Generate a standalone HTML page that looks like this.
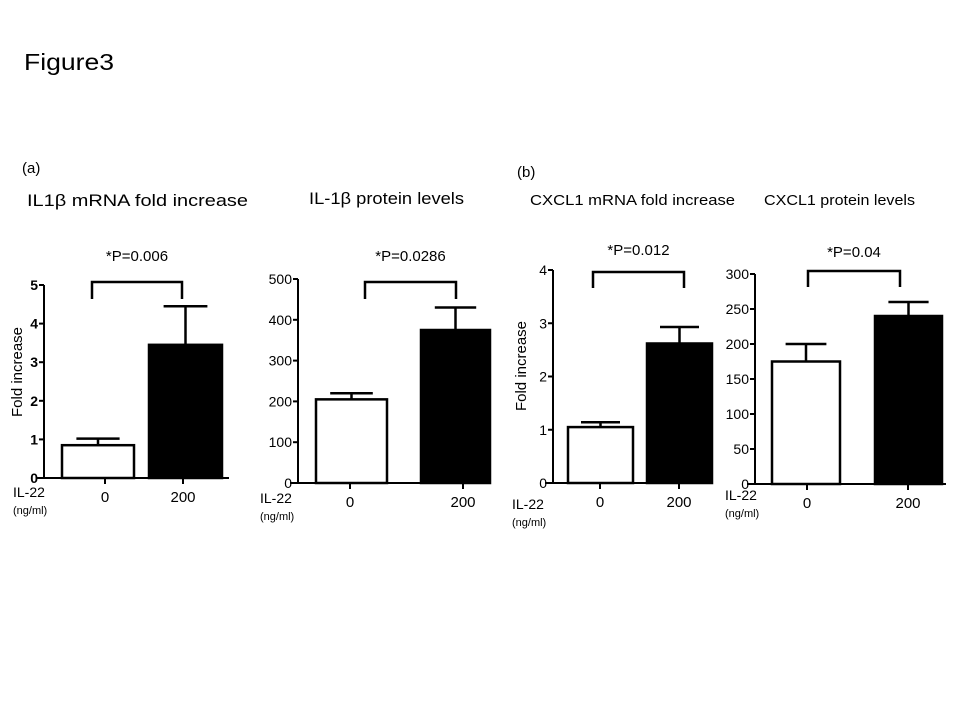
<!DOCTYPE html>
<html><head><meta charset="utf-8"><style>
html,body{margin:0;padding:0;background:#fff;}
svg{display:block;font-family:"Liberation Sans",sans-serif;}
</style></head><body>
<svg id="fig" width="960" height="720" viewBox="0 0 960 720">
<text x="24" y="70" font-size="23" textLength="90" lengthAdjust="spacingAndGlyphs">Figure3</text>
<text x="22" y="173" font-size="15">(a)</text>
<text x="517" y="177" font-size="15">(b)</text>
<text x="27" y="206" font-size="17" textLength="221" lengthAdjust="spacingAndGlyphs">IL1β mRNA fold increase</text>
<text x="309" y="204" font-size="17" textLength="155" lengthAdjust="spacingAndGlyphs">IL-1β protein levels</text>
<text x="530" y="205" font-size="15" textLength="205" lengthAdjust="spacingAndGlyphs">CXCL1 mRNA  fold increase</text>
<text x="764" y="205" font-size="15" textLength="151" lengthAdjust="spacingAndGlyphs">CXCL1 protein levels</text>
</svg>
<script>
const categories = ["0", "200"];
const il1bMrnaValues = [0.85, 3.45];
const il1bMrnaErrors = [0.17, 1.0];
const il1bMrnaTicks = [0, 1, 2, 3, 4, 5];
const il1bProteinValues = [205, 375];
const il1bProteinErrors = [15, 55];
const il1bProteinTicks = [0, 100, 200, 300, 400, 500];
const cxcl1MrnaValues = [1.05, 2.62];
const cxcl1MrnaErrors = [0.09, 0.31];
const cxcl1MrnaTicks = [0, 1, 2, 3, 4];
const cxcl1ProteinValues = [175, 240];
const cxcl1ProteinErrors = [25, 20];
const cxcl1ProteinTicks = [0, 50, 100, 150, 200, 250, 300];
const pLabels = ["*P=0.006", "*P=0.0286", "*P=0.012", "*P=0.04"];

const NS = "http://www.w3.org/2000/svg";
const svg = document.getElementById("fig");
function mk(tag, attrs, parent, text) {
  const e = document.createElementNS(NS, tag);
  for (const k in attrs) e.setAttribute(k, attrs[k]);
  if (text !== undefined) e.textContent = text;
  (parent || svg).appendChild(e);
  return e;
}
const panels = [
  {id:"il1b-mrna", vals:il1bMrnaValues, errs:il1bMrnaErrors, ticks:il1bMrnaTicks, p:pLabels[0],
   ax:44, y0:478, yTop:285, xEnd:229, bars:[[62,134],[149,222]], tickX:[105,183], bold:true,
   br:[92,182,282,299], pY:261, ylab:[17,372], il:[13,497]},
  {id:"il1b-protein", vals:il1bProteinValues, errs:il1bProteinErrors, ticks:il1bProteinTicks, p:pLabels[1],
   ax:298, y0:483, yTop:279, xEnd:490, bars:[[316,387],[421,490]], tickX:[350,463], bold:false,
   br:[365,456,282,299], pY:261, ylab:null, il:[260,503]},
  {id:"cxcl1-mrna", vals:cxcl1MrnaValues, errs:cxcl1MrnaErrors, ticks:cxcl1MrnaTicks, p:pLabels[2],
   ax:553, y0:483, yTop:270, xEnd:712, bars:[[568,633],[647,712]], tickX:[600,679], bold:false,
   br:[593,684,272,288], pY:255, ylab:[521,366], il:[512,509]},
  {id:"cxcl1-protein", vals:cxcl1ProteinValues, errs:cxcl1ProteinErrors, ticks:cxcl1ProteinTicks, p:pLabels[3],
   ax:755, y0:484, yTop:274, xEnd:946, bars:[[772,840],[875,942]], tickX:[807,908], bold:false,
   br:[808,900,271,287], pY:257, ylab:null, il:[725,500]}
];
panels.forEach(P => {
  const g = mk("g", {});
  
  
  const maxT = P.ticks[P.ticks.length - 1];
  const y = v => P.y0 - (v / maxT) * (P.y0 - P.yTop);
  P.vals.forEach((v, i) => {
    const [x1, x2] = P.bars[i];
    const ey = y(v + P.errs[i]);
    const cx = (x1 + x2) / 2;
    const w = x2 - x1;
    const err = mk("path", {d:`M${cx},${y(v)}V${ey}M${cx - w*0.3},${ey}H${cx + w*0.3}`, stroke:"#000", "stroke-width":2.5, fill:"none"}, g);
    
    
    const r = mk("rect", {x:x1, y:y(v), width:w, height:P.y0 - y(v), fill: i ? "#000" : "#fff", stroke:"#000", "stroke-width":2.5}, g);
    
    
  });
  const yAxis = mk("line", {x1:P.ax, y1:P.y0, x2:P.ax, y2:P.yTop, stroke:"#000", "stroke-width":2}, g);
  
  
  const xAxis = mk("line", {x1:P.ax - 8, y1:P.y0, x2:P.xEnd, y2:P.y0, stroke:"#000", "stroke-width":2}, g);
  
  
  P.ticks.forEach(t => {
    mk("line", {x1:P.ax - 5, y1:y(t), x2:P.ax, y2:y(t), stroke:"#000", "stroke-width":2}, g);
    const tl = mk("text", {x:P.ax - 6, y:y(t) + 5, "font-size":14, "text-anchor":"end", "font-weight":P.bold ? "bold" : "normal"}, g, String(t));
    
    
  });
  categories.forEach((c, i) => {
    mk("line", {x1:P.tickX[i], y1:P.y0, x2:P.tickX[i], y2:P.y0 + 6, stroke:"#000", "stroke-width":2}, g);
    const cl = mk("text", {x:P.tickX[i], y:P.y0 + 24, "font-size":15, "text-anchor":"middle"}, g, c);
    
    
  });
  const il = mk("text", {x:P.il[0], y:P.il[1], "font-size":14}, g, "IL-22");
  
  
  const un = mk("text", {x:P.il[0], y:P.il[1] + 17, "font-size":11}, g, "(ng/ml)");
  
  
  const [bx1, bx2, by1, by2] = P.br;
  const br = mk("path", {d:`M${bx1},${by2}V${by1}H${bx2}V${by2}`, stroke:"#000", "stroke-width":2.5, fill:"none"}, g);
  
  
  const pt = mk("text", {x:(bx1 + bx2) / 2, y:P.pY, "font-size":15, "text-anchor":"middle"}, g, P.p);
  
  
  if (P.ylab) {
    const yl = mk("text", {x:P.ylab[0], y:P.ylab[1], "font-size":15, "text-anchor":"middle", transform:`rotate(-90 ${P.ylab[0]} ${P.ylab[1]})`, dy:5}, g, "Fold increase");
    
    
  }
});
</script>
</body></html>
